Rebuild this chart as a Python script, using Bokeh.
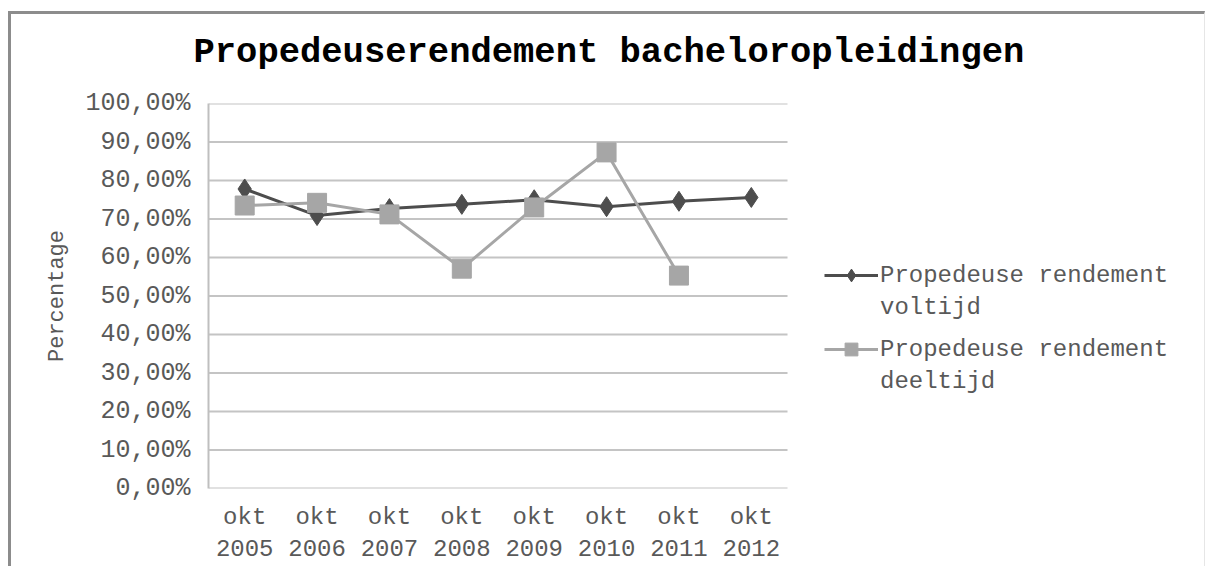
from bokeh.plotting import figure
from bokeh.models import (FixedTicker, Legend, LegendItem, Range1d, Title)
from bokeh.embed import file_html
from bokeh.resources import INLINE

# ---- data ----
categories = ["okt\n2005", "okt\n2006", "okt\n2007", "okt\n2008",
              "okt\n2009", "okt\n2010", "okt\n2011", "okt\n2012"]
voltijd = [77.8, 70.9, 72.7, 73.8, 75.0, 73.2, 74.6, 75.6]
deeltijd = [73.5, 74.2, 71.2, 57.1, 73.0, 87.3, 55.3]
y_ticks = [0, 10, 20, 30, 40, 50, 60, 70, 80, 90, 100]
y_tick_labels = ["0,00%", "10,00%", "20,00%", "30,00%", "40,00%", "50,00%",
                 "60,00%", "70,00%", "80,00%", "90,00%", "100,00%"]
title_text = "Propedeuserendement bacheloropleidingen"
y_label = "Percentage"
series_names = [["Propedeuse rendement", "voltijd"], ["Propedeuse rendement", "deeltijd"]]

FONT = "Liberation Mono"
TXT = "#595959"
DARK = "#4d4d4d"
LIGHT = "#a6a6a6"
GRID = "#c4c4c4"

# category positions on the x axis (index of each category)
xs = list(range(len(categories)))
xs_deel = xs[:len(deeltijd)]
n = len(categories)
# plot area of the categories: 579 px wide; frame extended to the right for the legend
plot_px, frame_px = 579, 992
x_start = -0.5
x_cat_end = x_start + n
x_end = x_start + n * frame_px / plot_px

p = figure(width=1197, height=555, x_range=Range1d(x_start, x_end), title=None,
           y_range=Range1d(0, 100), output_backend="svg", toolbar_location=None,
           min_border_left=197, min_border_top=89, min_border_right=8, min_border_bottom=81)
p.styles = {"border-top": "3px solid #8c8c8c", "border-left": "3px solid #8c8c8c",
            "border-right": "1px solid #e6e6e6", "margin-left": "8px", "margin-top": "11px"}
p.outline_line_color = None
p.background_fill_color = "white"
p.border_fill_color = "white"

# title (a thin spacer first, so the title sits higher above the plot area)
p.add_layout(Title(text=" ", text_font_size="10px", standoff=13), "above")
p.add_layout(Title(text=title_text, align="left", offset=-15, standoff=10,
                   text_font=FONT, text_font_size="35.5px", text_font_style="bold",
                   text_color="black"), "above")

# axes
p.yaxis.ticker = FixedTicker(ticks=y_ticks)
p.yaxis.major_label_overrides = {t: l for t, l in zip(y_ticks, y_tick_labels)}
p.yaxis.major_label_text_font = FONT
p.yaxis.major_label_text_font_size = "25px"
p.yaxis.major_label_text_color = TXT
p.yaxis.major_label_standoff = 18
p.yaxis.major_tick_out = 0
p.yaxis.major_tick_in = 0
p.yaxis.minor_tick_line_color = None
p.yaxis.axis_line_color = "#bfbfbf"
p.yaxis.axis_line_width = 2
p.yaxis.axis_label = y_label
p.yaxis.axis_label_text_font = FONT
p.yaxis.axis_label_text_font_size = "22px"
p.yaxis.axis_label_text_font_style = "normal"
p.yaxis.axis_label_text_color = TXT
p.yaxis.axis_label_standoff = 12

p.xaxis.ticker = FixedTicker(ticks=xs)
p.xaxis.major_label_overrides = {i: c for i, c in zip(xs, categories)}
p.xaxis.major_label_text_font = FONT
p.xaxis.major_label_text_font_size = "24px"
p.xaxis.major_label_text_color = TXT
p.xaxis.major_label_standoff = 15
p.xaxis.major_tick_out = 0
p.xaxis.major_tick_in = 0
p.xaxis.minor_tick_line_color = None
p.xaxis.axis_line_color = None

p.xgrid.grid_line_color = None
p.ygrid.grid_line_color = None
# horizontal gridlines only across the category area
p.segment(x0=[x_start] * len(y_ticks), x1=[x_cat_end] * len(y_ticks), y0=y_ticks, y1=y_ticks,
          line_color=GRID, line_width=2)

# series
l1 = p.line(xs, voltijd, line_color=DARK, line_width=3)
m1 = p.scatter(xs, voltijd, marker="diamond", size=20, fill_color=DARK, line_color=DARK)
l2 = p.line(xs_deel, deeltijd, line_color=LIGHT, line_width=3)
m2 = p.scatter(xs_deel, deeltijd, marker="square", size=19, fill_color=LIGHT, line_color=LIGHT)
# invisible renderer used only for the second line of each legend label
blank = p.line([], [], line_alpha=0)


def make_legend(names, rends, loc):
    lg = Legend(items=[LegendItem(label=names[0], renderers=rends),
                       LegendItem(label=names[1], renderers=[blank])],
                location=loc)
    lg.label_text_font = FONT
    lg.label_text_font_size = "24px"
    lg.label_text_color = TXT
    lg.border_line_color = None
    lg.background_fill_alpha = 0
    lg.glyph_width = 54
    lg.glyph_height = 32
    lg.label_height = 32
    lg.label_standoff = 2
    lg.spacing = 0
    lg.padding = 0
    lg.margin = 0
    return lg


p.add_layout(make_legend(series_names[0], [l1, m1], (616, 165)), "center")
p.add_layout(make_legend(series_names[1], [l2, m2], (616, 91)), "center")

open("out.html", "w").write(file_html(p, INLINE))
